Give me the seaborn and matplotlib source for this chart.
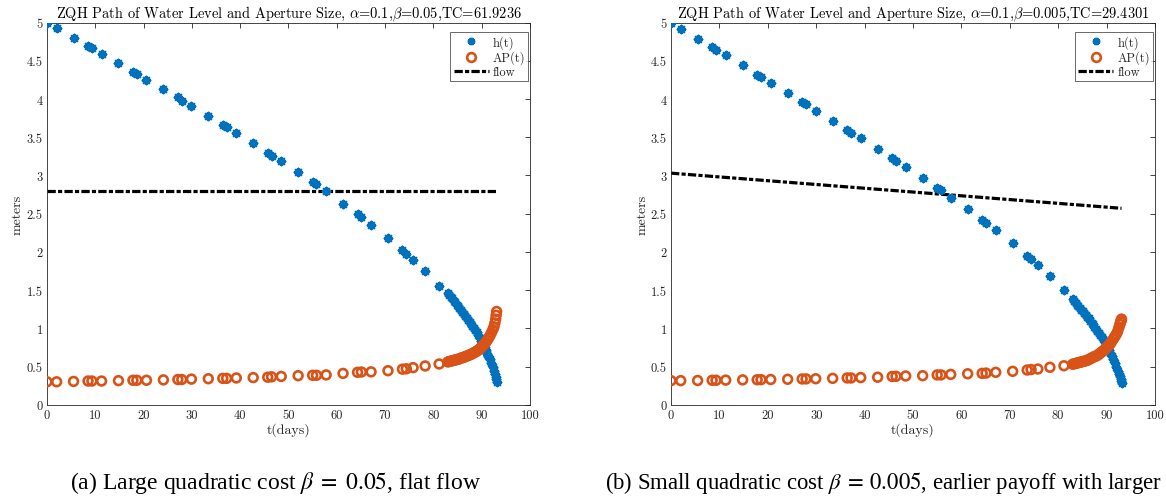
import numpy as np
import pandas as pd
import matplotlib
matplotlib.use("Agg")
import matplotlib.pyplot as plt
from matplotlib.lines import Line2D
import seaborn as sns

# ---------------- data ----------------
t_sparse = [0, 2.0, 5.5, 8.5, 9.3, 11.3, 14.8, 17.8, 18.6, 20.6, 24.1, 27.1, 27.9, 29.9,
            33.4, 36.4, 37.2, 39.2, 42.7, 45.7, 46.5, 48.5, 52.0, 55.0, 55.8, 57.8,
            61.3, 64.3, 65.1, 67.1, 70.6, 73.6, 74.4, 75.8, 78.3, 81.2]
t_dense = [83.0, 83.3, 83.6, 83.9, 84.2, 84.5, 84.8, 85.1, 85.4, 85.7, 86.0, 86.3, 86.6,
           86.9, 87.2, 87.5, 87.8, 88.1, 88.4, 88.7, 89.0, 89.3, 89.6, 89.9, 90.2, 90.5,
           90.8, 91.1, 91.4, 91.7, 92.0, 92.3, 92.55, 92.75, 92.9, 93.0, 93.1]

h_a_sparse = [5.0, 4.93, 4.80, 4.695, 4.665, 4.595, 4.47, 4.36, 4.33, 4.25, 4.13, 4.02,
              3.98, 3.91, 3.78, 3.665, 3.635, 3.56, 3.42, 3.30, 3.26, 3.19, 3.05, 2.92,
              2.885, 2.79, 2.63, 2.50, 2.457, 2.356, 2.18, 2.025, 1.97, 1.90, 1.745, 1.557]
h_a_dense = [1.46, 1.43, 1.41, 1.39, 1.36, 1.34, 1.31, 1.29, 1.26, 1.24, 1.21, 1.19, 1.16,
             1.14, 1.11, 1.08, 1.06, 1.03, 1.00, 0.98, 0.95, 0.91, 0.87, 0.83, 0.78, 0.75,
             0.71, 0.67, 0.64, 0.60, 0.55, 0.49, 0.44, 0.40, 0.36, 0.33, 0.30]
ap_a_sparse = [0.30, 0.30, 0.305, 0.31, 0.31, 0.31, 0.315, 0.32, 0.32, 0.32, 0.325, 0.33,
               0.33, 0.335, 0.34, 0.345, 0.345, 0.35, 0.355, 0.36, 0.365, 0.37, 0.38,
               0.385, 0.385, 0.39, 0.41, 0.424, 0.428, 0.43, 0.445, 0.465, 0.47, 0.485,
               0.507, 0.533]
ap_a_dense = [0.56, 0.565, 0.57, 0.575, 0.58, 0.585, 0.59, 0.595, 0.60, 0.61, 0.615, 0.62,
              0.63, 0.635, 0.645, 0.65, 0.66, 0.67, 0.68, 0.69, 0.70, 0.715, 0.73, 0.75,
              0.77, 0.79, 0.81, 0.84, 0.87, 0.90, 0.94, 0.98, 1.02, 1.07, 1.12, 1.17, 1.22]

h_b_sparse = [5.0, 4.92, 4.79, 4.675, 4.645, 4.57, 4.44, 4.32, 4.29, 4.21, 4.08, 3.96,
              3.93, 3.84, 3.71, 3.59, 3.56, 3.49, 3.34, 3.23, 3.19, 3.11, 2.96, 2.83,
              2.81, 2.71, 2.56, 2.42, 2.38, 2.28, 2.11, 1.95, 1.91, 1.83, 1.69, 1.505]
h_b_dense = [1.38, 1.36, 1.33, 1.31, 1.29, 1.27, 1.24, 1.22, 1.20, 1.18, 1.15, 1.13, 1.10,
             1.07, 1.05, 1.02, 0.99, 0.96, 0.94, 0.91, 0.89, 0.86, 0.82, 0.79, 0.75, 0.72,
             0.68, 0.64, 0.60, 0.55, 0.50, 0.445, 0.40, 0.37, 0.34, 0.31, 0.29]
ap_b_sparse = [0.315, 0.315, 0.317, 0.32, 0.32, 0.322, 0.325, 0.327, 0.328, 0.33, 0.333,
               0.337, 0.338, 0.34, 0.345, 0.35, 0.35, 0.355, 0.36, 0.37, 0.372, 0.376,
               0.38, 0.39, 0.39, 0.397, 0.405, 0.41, 0.414, 0.424, 0.437, 0.454, 0.46,
               0.467, 0.49, 0.51]
ap_b_dense = [0.53, 0.535, 0.54, 0.545, 0.55, 0.555, 0.56, 0.565, 0.57, 0.575, 0.58, 0.59,
              0.60, 0.61, 0.62, 0.63, 0.635, 0.645, 0.66, 0.675, 0.69, 0.705, 0.72, 0.74,
              0.76, 0.78, 0.80, 0.83, 0.86, 0.89, 0.92, 0.96, 1.01, 1.05, 1.08, 1.10, 1.12]

flow_t = [0, 93.1]
flow_a = [2.8, 2.8]
flow_b = [3.03, 2.57]

titles = [r"ZQH Path of Water Level and Aperture Size, $\alpha$=0.1,$\beta$=0.05,TC=61.9236",
          r"ZQH Path of Water Level and Aperture Size, $\alpha$=0.1,$\beta$=0.005,TC=29.4301"]
captions = [r"(a) Large quadratic cost $\beta\;=\;0.05$, flat flow",
            r"(b) Small quadratic cost $\beta\:=\:0.005$, earlier payoff with larger"]
legend_labels = ["h(t)", "AP(t)", "flow"]
xticks = list(range(0, 101, 10))
yticks = [0, 0.5, 1, 1.5, 2, 2.5, 3, 3.5, 4, 4.5, 5]
ytick_labels = ["0", "0.5", "1", "1.5", "2", "2.5", "3", "3.5", "4", "4.5", "5"]

# ---------------- style ----------------
sns.set_theme(style="white")
plt.rcParams["font.family"] = ["cmr10", "DejaVu Serif"]
plt.rcParams["mathtext.fontset"] = "cm"
plt.rcParams["axes.formatter.use_mathtext"] = True
plt.rcParams["axes.unicode_minus"] = False

BLUE = "#0072BD"
ORANGE = "#D95319"
AXC = "#262626"

fig = plt.figure(figsize=(11.66, 5.02), dpi=100)
ax_a = fig.add_axes([0.0403, 0.1918, 0.4142, 0.7612])
ax_b = fig.add_axes([0.5755, 0.1918, 0.4150, 0.7612])

panels = [
    (ax_a, h_a_sparse + h_a_dense, ap_a_sparse + ap_a_dense, flow_a),
    (ax_b, h_b_sparse + h_b_dense, ap_b_sparse + ap_b_dense, flow_b),
]
t_all = t_sparse + t_dense
dash = (0, (2.6, 0.7, 1.3, 0.7))

for i, (ax, h, ap, fl) in enumerate(panels):
    df = pd.DataFrame({"t": t_all, "h": h, "ap": ap})
    dfl = pd.DataFrame({"t": flow_t, "flow": fl})
    sns.scatterplot(data=df, x="t", y="h", ax=ax, marker=(8, 2, 0), s=26,
                    color=BLUE, linewidth=1.9, zorder=3)
    sns.scatterplot(data=df, x="t", y="ap", ax=ax, marker="o", s=40,
                    facecolor="none", edgecolor=ORANGE, linewidth=1.9, zorder=3)
    sns.lineplot(data=dfl, x="t", y="flow", ax=ax, color="black", linewidth=2.3,
                 linestyle=dash, zorder=2)

    ax.set_xlim(0, 100)
    ax.set_ylim(0, 5)
    ax.set_xticks(xticks)
    ax.set_xticklabels([str(v) for v in xticks])
    ax.set_yticks(yticks)
    ax.set_yticklabels(ytick_labels)
    ax.tick_params(direction="in", length=3.5, width=0.6, colors=AXC, labelsize=9,
                   top=True, right=True, pad=3)
    for sp in ax.spines.values():
        sp.set_visible(True)
        sp.set_color(AXC)
        sp.set_linewidth(0.6)
    ax.set_xlabel("t(days)", fontsize=10, color=AXC, labelpad=1)
    ax.set_ylabel("meters", fontsize=10, color=AXC, labelpad=2)
    ax.set_title(titles[i], fontsize=10.4, color="black", pad=4)

    handles = [
        Line2D([], [], linestyle="none", marker=(8, 2, 0), markersize=5.3,
               markeredgewidth=1.9, color=BLUE),
        Line2D([], [], linestyle="none", marker="o", markersize=6.3,
               markerfacecolor="none", markeredgewidth=1.9, markeredgecolor=ORANGE),
        Line2D([], [], color="black", linewidth=2.3, linestyle=dash),
    ]
    leg = ax.legend(handles, legend_labels, loc="upper right",
                    bbox_to_anchor=(0.996, 0.976), fontsize=9,
                    frameon=True, fancybox=False, handlelength=2.8,
                    handletextpad=0.3, borderpad=0.25, labelspacing=0.15,
                    borderaxespad=0.0)
    leg.get_frame().set_edgecolor(AXC)
    leg.get_frame().set_linewidth(0.6)

fig.text(0.2367, 0.038, captions[0], ha="center", va="center", fontsize=17,
         family="Liberation Serif", math_fontfamily="stix", color="black")
fig.text(0.9965, 0.038, captions[1], ha="right", va="center", fontsize=16.4,
         family="Liberation Serif", math_fontfamily="stix", color="black")

fig.savefig("out.png", dpi=100, facecolor="white")
